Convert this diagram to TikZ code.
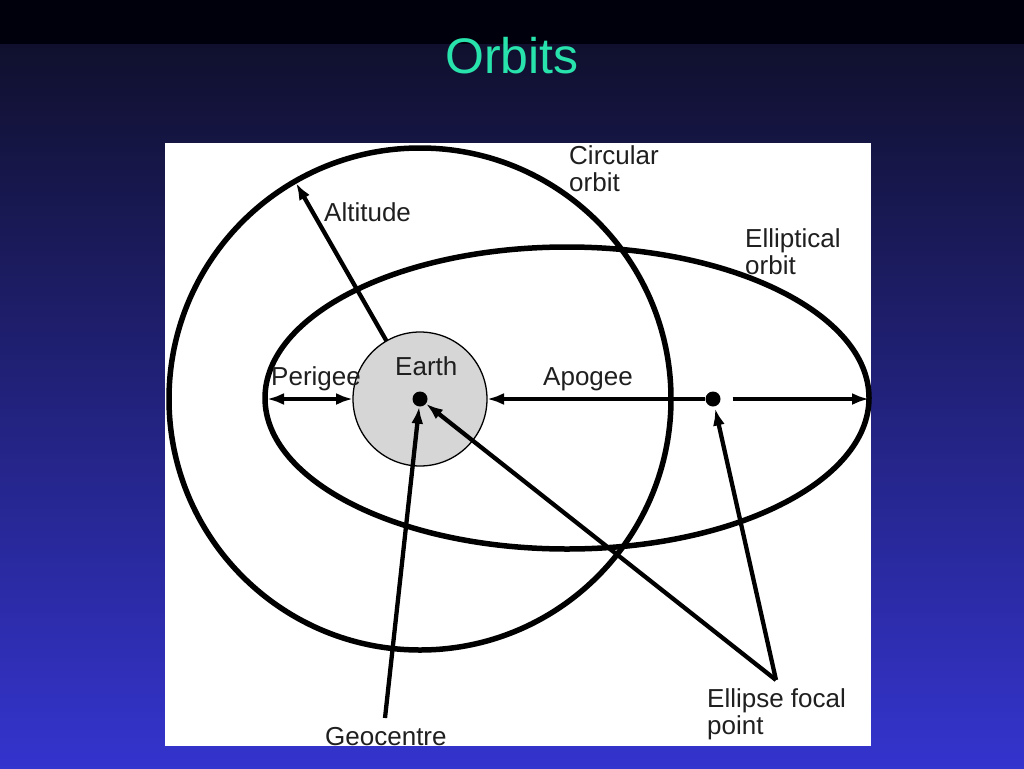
\documentclass[tikz,border=0pt]{standalone}
\usepackage{fontspec}
\setmainfont{Liberation Sans}
\usetikzlibrary{arrows.meta}
\definecolor{titlegreen}{RGB}{40,228,172}
\definecolor{slidetop}{RGB}{16,16,46}
\definecolor{slidebot}{RGB}{52,52,206}
\definecolor{earthgrey}{RGB}{214,214,214}
\tikzset{
  orbit/.style={line width=5.5pt},
  tip/.tip={Latex[length=17pt,width=12pt]},
  ptr/.style={line width=4.3pt,-tip},
  lbl/.style={font=\fontsize{26}{27}\selectfont,text=black!88,inner sep=0pt,align=left},
  dot/.style={circle,fill=black,inner sep=0pt,minimum size=15pt},
}
\begin{document}
\begin{tikzpicture}[x=1pt,y=-1pt]
  % slide background
  \fill[black!95!blue] (0,0) rectangle (1024,45);
  \shade[top color=slidetop,bottom color=slidebot] (0,45) rectangle (1024,768);
  \node[text=titlegreen,font=\fontsize{50}{52}\selectfont,inner sep=0pt] (title) at (512,56) {Orbits};
  \fill[white] (165,143) rectangle (871,746);
  % orbits
  \draw[orbit] (420,399) circle (251pt);
  \draw[orbit] (567,398) ellipse [x radius=302pt,y radius=151pt];
  \node[circle,draw,line width=1.3pt,fill=earthgrey,inner sep=0pt,outer sep=0pt,minimum size=134pt] (earth) at (420,399) {};
  \node[dot] (ctr) at (420,399) {};
  \node[dot] (foc) at (713,399) {};
  \coordinate (peri) at (267,399);
  \coordinate (apo) at (869,399);
  \coordinate (alt) at (296,183);
  \coordinate (gc) at (385,718);
  \coordinate (fp) at (776,680);
  % labels
  \node[lbl,anchor=north west] (circ) at (569,145) {Circular\\orbit};
  \node[lbl,anchor=north west] (ell) at (745,228) {Elliptical\\orbit};
  \node[lbl,anchor=base west] (altl) at (324,221) {Altitude};
  \node[lbl,anchor=base west] (perl) at (271,385) {Perigee};
  \node[lbl,anchor=base west] (earl) at (395,375) {Earth};
  \node[lbl,anchor=base west] (apol) at (543,385) {Apogee};
  \node[lbl,anchor=base west] (geo) at (325,745) {Geocentre};
  \node[lbl,anchor=north west] (focl) at (707,688) {Ellipse focal\\point};
  % arrows
  \draw[ptr] (earth.120) -- (alt);
  \draw[ptr,tip-tip] (peri) -- (earth.west);
  \draw[ptr] (foc.west) -- (earth.east);
  \draw[ptr,shorten <=12pt] (foc.east) -- (apo);
  \draw[ptr] (gc) -- (ctr);
  \draw[ptr] (fp) -- (ctr);
  \draw[ptr,shorten >=2pt] (fp) -- (foc);
\end{tikzpicture}
\end{document}
